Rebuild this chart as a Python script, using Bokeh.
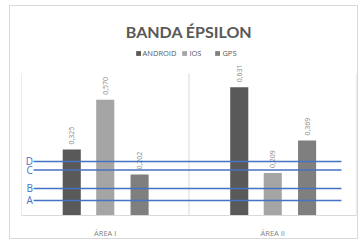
import numpy as np
from bokeh.plotting import figure
from bokeh.models import (ColumnDataSource, FactorRange, Range1d, Legend, LegendItem,
                          Title, InlineStyleSheet)
from bokeh.transform import dodge
from bokeh.core.properties import value
from bokeh.embed import file_html
from bokeh.resources import INLINE

# ---- data ----
areas = ["ÁREA I", "ÁREA II"]
series = ["ANDROID", "IOS", "GPS"]
android = [0.325, 0.631]
ios = [0.570, 0.209]
gps = [0.202, 0.369]
band_names = ["A", "B", "C", "D"]
band_values = [0.074, 0.133, 0.224, 0.266]
axis_max = 0.7

def fmt(vals):
    return [f"{v:.3f}".replace(".", ",") for v in vals]

src = ColumnDataSource(dict(
    area=areas,
    android=android, ios=ios, gps=gps,
    android_lbl=fmt(android), ios_lbl=fmt(ios), gps_lbl=fmt(gps),
))

colors = ["#595959", "#a5a5a5", "#7f7f7f"]
offsets = [-0.2, 0.0, 0.205]
bar_w = 0.108

p = figure(width=359, height=240,
           x_range=FactorRange(*areas, range_padding=0),
           y_range=Range1d(0, 0.852),
           output_backend="svg", toolbar_location=None,
           min_border_left=21, min_border_right=3,
           min_border_top=42, min_border_bottom=25)
p.outline_line_color = None
p.grid.visible = False
p.yaxis.visible = False

# outer chart border (drawn by CSS over the canvas)
p.stylesheets = [InlineStyleSheet(css="""
:host { position: relative; }
:host::after {
  content: "";
  position: absolute;
  left: 9px; top: 5px;
  width: 347px; height: 232px;
  border: 1px solid #d9d9d9;
  pointer-events: none;
  z-index: 10;
}
""")]

p.title = Title(text="BANDA ÉPSILON", align="center",
                text_font_size="16px", text_font="Lato",
                text_font_style="bold", text_color="#595959", standoff=4)

xa = p.xaxis[0]
xa.axis_line_color = "#d9d9d9"
xa.major_tick_line_color = None
xa.minor_tick_line_color = None
xa.major_label_text_font = "Open Sans"
xa.major_label_text_font_size = "7.5px"
xa.major_label_text_color = "#7f7f7f"
xa.major_label_standoff = 6

# category separators
seps = list(range(len(areas) + 1))
p.segment(x0=seps, y0=[0] * len(seps), x1=seps, y1=[axis_max] * len(seps),
          line_color="#d9d9d9", line_width=1)

renderers = []
for key, col, off in zip(["android", "ios", "gps"], colors, offsets):
    r = p.vbar(x=dodge("area", off, range=p.x_range), top=key, width=bar_w,
               source=src, fill_color=col, line_color=None)
    renderers.append(r)
    p.text(x=dodge("area", off, range=p.x_range), y=key, text=key + "_lbl",
           source=src, angle=np.pi / 2, text_align="left",
           text_baseline="middle", y_offset=-5,
           text_font=value("Open Sans"), text_font_size="7px",
           text_color="#8c8c8c")

# band lines
p.segment(x0=[0.072] * len(band_values), y0=band_values,
          x1=[1.91] * len(band_values), y1=band_values,
          line_color="#4472c4", line_width=1.5)
p.text(x=[0.068] * len(band_values), y=band_values, text=band_names,
       text_align="right", text_baseline="middle",
       text_font=value("Open Sans"), text_font_size="10px",
       text_color="#4472c4")

legend = Legend(items=[LegendItem(label=s, renderers=[r]) for s, r in zip(series, renderers)],
                location="top_center", orientation="horizontal",
                border_line_color=None, background_fill_alpha=0,
                label_text_font="Open Sans", label_text_font_size="7.5px",
                label_text_color="#595959", glyph_width=6, glyph_height=6,
                spacing=5, padding=0, margin=6, label_standoff=2,
                label_height=8)
p.add_layout(legend)

open("out.html", "w").write(file_html(p, INLINE))
